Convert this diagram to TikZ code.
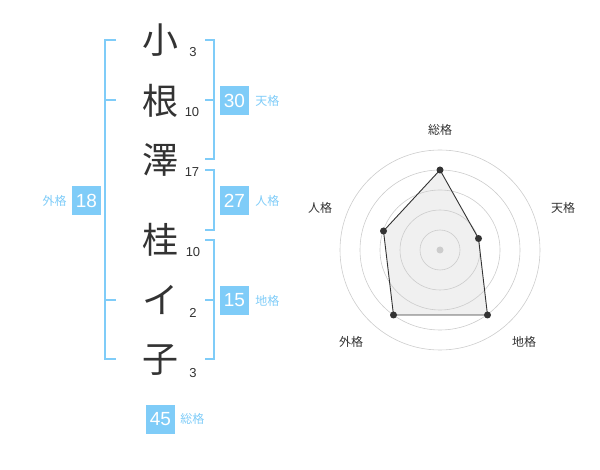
\documentclass[tikz,border=0pt]{standalone}
\usepackage{fontspec}
\setmainfont{Liberation Sans}
\newfontfamily\jp{Noto Sans CJK JP}
\begin{document}
\begin{tikzpicture}[x=1pt,y=-1pt,
  brk/.style={draw=skyb,line width=1.6pt},
  big/.style={font=\jp\fontsize{36}{36}\selectfont,text=txt,inner sep=0pt},
  strk/.style={font=\fontsize{13}{13}\selectfont,text=txt,inner sep=0pt},
  valbox/.style={fill=skyb,text=white,minimum width=29pt,minimum height=29pt,inner sep=0pt,font=\fontsize{19}{19}\selectfont},
  lab/.style={font=\jp\fontsize{12}{12}\selectfont,text=skyb,inner sep=0pt},
  rlab/.style={font=\jp\fontsize{12}{12}\selectfont,text=txt,inner sep=0pt},
  ring/.style={draw=ringc,line width=0.6pt},
  dot/.style={circle,fill=txt,inner sep=0pt,minimum size=7pt}]
\definecolor{skyb}{HTML}{7FCCF8}
\definecolor{txt}{HTML}{333333}
\definecolor{ringc}{HTML}{CCCCCC}
\useasboundingbox (0,0) rectangle (600,470);
% characters
\node[big] (c1) at (160,40) {小};
\node[big] (c2) at (160,101) {根};
\node[big] (c3) at (160,160) {澤};
\node[big] (c4) at (160,240) {桂};
\node[big] (c5) at (160,300) {イ};
\node[big] (c6) at (160,360) {子};
\node[strk] (s1) at (193,52) {3};
\node[strk] (s2) at (192,112) {10};
\node[strk] (s3) at (192,172) {17};
\node[strk] (s4) at (193,252) {10};
\node[strk] (s5) at (193,313) {2};
\node[strk] (s6) at (193,373) {3};
% left bracket
\draw[brk] (116,40) -- (105,40) -- (105,359) -- (116,359);
\draw[brk] (105,100) -- (116,100);
\draw[brk] (105,300) -- (116,300);
% right brackets
\draw[brk] (205,40) -- (214,40) -- (214,159) -- (205,159);
\draw[brk] (205,100) -- (214,100);
\draw[brk] (205,170) -- (214,170) -- (214,230) -- (205,230);
\draw[brk] (205,240) -- (214,240) -- (214,359) -- (205,359);
\draw[brk] (205,300) -- (214,300);
% boxes
\node[valbox] (b30) at (234.5,100.5) {30};
\node[lab,anchor=west] (l30) at (b30.east) [xshift=6pt] {天格};
\node[valbox] (b27) at (234.5,200.5) {27};
\node[lab,anchor=west] (l27) at (b27.east) [xshift=6pt] {人格};
\node[valbox] (b15) at (234.5,300.5) {15};
\node[lab,anchor=west] (l15) at (b15.east) [xshift=6pt] {地格};
\node[valbox] (b18) at (86.5,200.5) {18};
\node[lab,anchor=east] (l18) at (b18.west) [xshift=-5pt] {外格};
\node[valbox] (b45) at (160.5,419) {45};
\node[lab,anchor=west] (l45) at (b45.east) [xshift=5pt] {総格};
% radar
\coordinate (ctr) at (440,250);
\coordinate (pS) at (440,170);
\coordinate (pT) at (478.5,238.5);
\coordinate (pC) at (487.5,315);
\coordinate (pG) at (393.5,315);
\coordinate (pJ) at (383.5,231);
\fill[fill=black!6] (pS) -- (pT) -- (pC) -- (pG) -- (pJ) -- cycle;
\foreach \r in {20,40,60,80,100} \draw[ring] (ctr) circle (\r);
\draw[txt,line width=0.9pt] (pS) -- (pT) -- (pC) -- (pG) -- (pJ) -- cycle;
\node[circle,fill=ringc,inner sep=0pt,minimum size=7pt] (cdot) at (ctr) {};
\foreach \p in {pS,pT,pC,pG,pJ} \node[dot] at (\p) {};
\node[rlab] (rS) at (440,130) {総格};
\node[rlab] (rT) at (563,208) {天格};
\node[rlab] (rJ) at (320,208) {人格};
\node[rlab] (rG) at (351,342) {外格};
\node[rlab] (rC) at (524,342) {地格};
\end{tikzpicture}
\end{document}
